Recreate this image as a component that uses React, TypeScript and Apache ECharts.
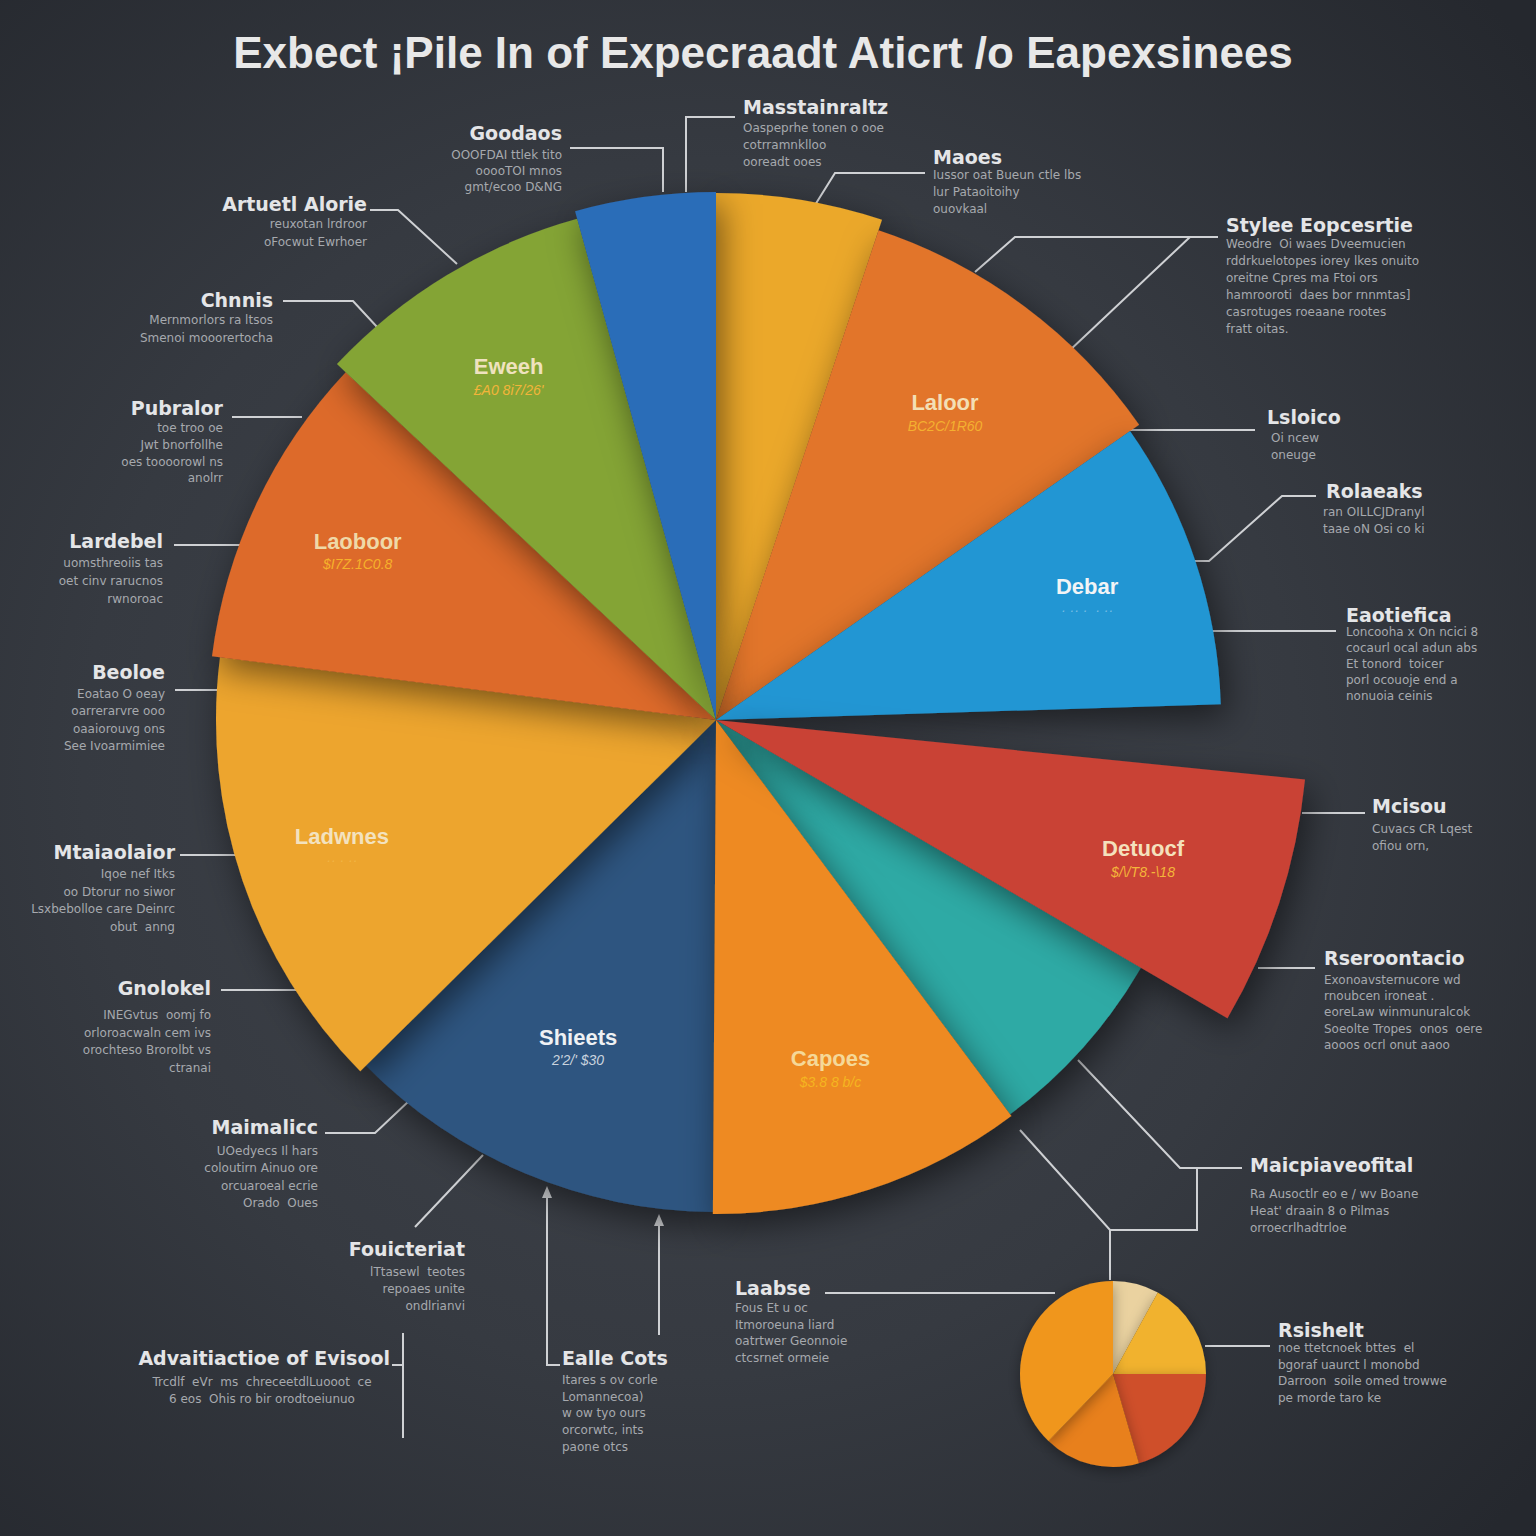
import React, { useEffect, useRef } from "react";
import * as echarts from "echarts";

// ---------- DATA ----------
const TITLE = "Exbect ¡Pile In of Expecraadt Aticrt /o Eapexsinees";

const SLICE_NAMES = ["Mastan", "Laloor", "Debar", "", "Detuocf", "Teal", "Capoes", "Shieets", "Ladwnes", "Laoboor", "Eweeh", "Goodaos"];
const SLICE_VALUES = [5.1, 10.2, 9.2, 2.1, 6.8, 6.4, 10.3, 12.5, 14.4, 10.0, 8.7, 4.3];
const SLICE_SUBTEXT = ["", "BC2C/1R60", "· ·· ·  · ··", "", "$/\\/T8.-\\18", "", "$3.8 8 b/c", "2'2/' $30", "·· · ··", "$I7Z.1C0.8", "£A0 8i7/26'", ""];
const SLICE_SHOW_LABEL = [false, true, true, false, true, false, true, true, true, true, true, false];

const SMALL_NAMES = ["Pale", "Yellow", "Red", "Orange", "Amber"];
const SMALL_VALUES = [8.0, 17.0, 20.5, 16.7, 37.8];

const NOTE_TITLES = [
  "Goodaos", "Masstainraltz", "Maoes", "Stylee Eopcesrtie", "Lsloico", "Rolaeaks",
  "Eaotiefica", "Mcisou", "Rseroontacio", "Maicpiaveofital", "Rsishelt", "Laabse",
  "Ealle Cots", "Advaitiactioe of Evisool", "Fouicteriat", "Maimalicc", "Gnolokel",
  "Mtaiaolaior", "Beoloe", "Lardebel", "Pubralor", "Chnnis", "Artuetl Alorie",
];
const NOTE_LINES = [
  ["OOOFDAI ttlek tito", "ooooTOI mnos", "gmt/ecoo D&NG"],
  ["Oaspeprhe tonen o ooe", "cotrramnklloo", "ooreadt ooes"],
  ["Iussor oat Bueun ctle lbs", "lur Pataoitoihy", "ouovkaal"],
  ["Weodre  Oi waes Dveemucien", "rddrkuelotopes iorey lkes onuito", "oreitne Cpres ma Ftoi ors", "hamrooroti  daes bor rnnmtas]", "casrotuges roeaane rootes", "fratt oitas."],
  ["Oi ncew", "oneuge"],
  ["ran OILLCJDranyl", "taae oN Osi co ki"],
  ["Loncooha x On ncici 8", "cocaurl ocal adun abs", "Et tonord  toicer", "porl ocouoje end a", "nonuoia ceinis"],
  ["Cuvacs CR Lqest", "ofiou orn,"],
  ["Exonoavsternucore wd", "rnoubcen ironeat .", "eoreLaw winmunuralcok", "Soeolte Tropes  onos  oere", "aooos ocrl onut aaoo"],
  ["Ra Ausoctlr eo e / wv Boane", "Heat' draain 8 o Pilmas", "orroecrlhadtrloe"],
  ["noe ttetcnoek bttes  el", "bgoraf uaurct l monobd", "Darroon  soile omed trowwe", "pe morde taro ke"],
  ["Fous Et u oc", "Itmoroeuna liard", "oatrtwer Geonnoie", "ctcsrnet ormeie"],
  ["Itares s ov corle", "Lomannecoa)", "w ow tyo ours", "orcorwtc, ints", "paone otcs"],
  ["Trcdlf  eVr  ms  chreceetdlLuooot  ce", "6 eos  Ohis ro bir orodtoeiunuo"],
  ["lTtasewl  teotes", "repoaes unite", "ondlrianvi"],
  ["UOedyecs Il hars", "coloutirn Ainuo ore", "orcuaroeal ecrie", "Orado  Oues"],
  ["INEGvtus  oomj fo", "orloroacwaln cem ivs", "orochteso Brorolbt vs", "ctranai"],
  ["Iqoe nef Itks", "oo Dtorur no siwor", "Lsxbebolloe care Deinrc", "obut  anng"],
  ["Eoatao O oeay", "oarrerarvre ooo", "oaaiorouvg ons", "See Ivoarmimiee"],
  ["uomsthreoiis tas", "oet cinv rarucnos", "rwnoroac"],
  ["toe troo oe", "Jwt bnorfollhe", "oes toooorowl ns", "anolrr"],
  ["Mernmorlors ra ltsos", "Smenoi mooorertocha"],
  ["reuxotan lrdroor", "oFocwut Ewrhoer"],
];

// ---------- STYLE / LAYOUT ----------
const W = 1536;
const H = 1536;
const CENTER = [716, 720];
const SLICE_COLORS = ["#EBA82C", "#E2742A", "#2196D3", "none", "#C94236", "#2FAAA5", "#EE8A22", "#2D5580", "#EDA52E", "#DD6A2A", "#84A436", "#2B6DB8"];
const SLICE_RADIUS = [527, 516, 505, 0, 592, 492, 494, 492, 500, 508, 520, 528];
const SLICE_Z = [2, 2, 3, 1, 5, 2, 3, 2, 2, 2, 2, 2];
const LABEL_RADIUS = [0, 380, 388, 0, 446, 0, 364, 352, 392, 393, 398, 0];
const HEAD_COLORS = ["", "#f3dfb5", "#f2f4f6", "", "#f4e1bd", "", "#f5d898", "#eef1f4", "#f3e2bf", "#efd9a8", "#efe2bf", ""];
const SUB_COLORS = ["", "#f4b030", "rgba(225,238,248,0.45)", "", "#f4b53a", "", "#f5b520", "#c9d3de", "rgba(245,196,90,0.55)", "#f6b12a", "#f2b43a", ""];
const SMALL_COLORS = ["#EAD2A0", "#F1B22E", "#CF4F2A", "#E8801C", "#F0961F"];
const SMALL_CENTER = [1113, 1374];
const SMALL_RADIUS = 93;

// x, y of heading; align; first body line y; gap; optional body x / align
const NOTE_LAYOUT = [
  { x: 562, y: 133, align: "right", y0: 155, gap: 16 },
  { x: 743, y: 107, align: "left", y0: 128, gap: 17 },
  { x: 933, y: 157, align: "left", y0: 175, gap: 17 },
  { x: 1226, y: 225, align: "left", y0: 244, gap: 17 },
  { x: 1267, y: 417, align: "left", y0: 438, gap: 17, bx: 1271 },
  { x: 1326, y: 491, align: "left", y0: 512, gap: 17, bx: 1323 },
  { x: 1346, y: 615, align: "left", y0: 632, gap: 16 },
  { x: 1372, y: 806, align: "left", y0: 829, gap: 17 },
  { x: 1324, y: 958, align: "left", y0: 980, gap: 16.2 },
  { x: 1250, y: 1165, align: "left", y0: 1194, gap: 17 },
  { x: 1278, y: 1330, align: "left", y0: 1348, gap: 16.7 },
  { x: 735, y: 1288, align: "left", y0: 1308, gap: 16.5 },
  { x: 562, y: 1358, align: "left", y0: 1380, gap: 16.7 },
  { x: 390, y: 1358, align: "right", y0: 1382, gap: 17, bx: 262, balign: "center" },
  { x: 465, y: 1249, align: "right", y0: 1272, gap: 17 },
  { x: 318, y: 1127, align: "right", y0: 1151, gap: 17.3 },
  { x: 211, y: 988, align: "right", y0: 1015, gap: 17.6 },
  { x: 175, y: 852, align: "right", y0: 874, gap: 17.6 },
  { x: 165, y: 672, align: "right", y0: 694, gap: 17.4 },
  { x: 163, y: 541, align: "right", y0: 563, gap: 18 },
  { x: 223, y: 408, align: "right", y0: 428, gap: 16.8 },
  { x: 273, y: 300, align: "right", y0: 320, gap: 18 },
  { x: 367, y: 204, align: "right", y0: 224, gap: 18 },
];

const LEADERS = [
  [[570, 148], [663, 148], [663, 192]],
  [[735, 117], [686, 117], [686, 192]],
  [[925, 173], [835, 173], [815, 205]],
  [[1218, 237], [1015, 237], [975, 272]],
  [[1190, 237], [1068, 352]],
  [[1255, 430], [1125, 430]],
  [[1316, 496], [1282, 496], [1209, 561], [1195, 561]],
  [[1336, 631], [1208, 631]],
  [[1365, 813], [1302, 813]],
  [[1315, 968], [1258, 968]],
  [[1242, 1168], [1180, 1168], [1078, 1060]],
  [[1197, 1168], [1197, 1230], [1110, 1230], [1020, 1130]],
  [[1110, 1230], [1110, 1280]],
  [[1270, 1346], [1205, 1346]],
  [[825, 1293], [1055, 1293]],
  [[560, 1365], [547, 1365], [547, 1194]],
  [[659, 1335], [659, 1222]],
  [[392, 1365], [403, 1365]],
  [[403, 1333], [403, 1438]],
  [[415, 1227], [483, 1155]],
  [[325, 1133], [375, 1133], [410, 1100]],
  [[221, 990], [303, 990]],
  [[180, 855], [240, 855]],
  [[175, 690], [218, 690]],
  [[174, 545], [242, 545]],
  [[232, 417], [302, 417]],
  [[283, 301], [353, 301], [378, 328]],
  [[370, 210], [398, 210], [457, 264]],
];
const ARROWS = [[547, 1186], [659, 1214]];

const FONT = "'Liberation Sans', Arial, sans-serif";
const NOTE_FONT = "'DejaVu Sans', 'Liberation Sans', sans-serif";

function buildOption() {
  const series: any[] = [];
  const transparent = { color: "rgba(0,0,0,0)", borderWidth: 0 };

  SLICE_VALUES.forEach((_, i) => {
    if (SLICE_COLORS[i] === "none") return;
    series.push({
      type: "pie",
      center: CENTER,
      radius: [0, SLICE_RADIUS[i]],
      startAngle: 90,
      clockwise: true,
      silent: true,
      z: SLICE_Z[i],
      label: { show: false },
      labelLine: { show: false },
      emphasis: { disabled: true },
      data: SLICE_VALUES.map((v, j) => ({
        value: v,
        name: SLICE_NAMES[j] || "gap",
        itemStyle:
          j === i
            ? {
                color: SLICE_COLORS[i],
                shadowBlur: 34,
                shadowColor: "rgba(0,0,0,0.5)",
                shadowOffsetX: 6,
                shadowOffsetY: 12,
              }
            : transparent,
      })),
    });
  });

  // label rings (transparent) — labels placed by pie layout
  SLICE_VALUES.forEach((_, i) => {
    if (!SLICE_SHOW_LABEL[i]) return;
    const r = LABEL_RADIUS[i];
    series.push({
      type: "pie",
      center: CENTER,
      radius: [r - 2, r + 2],
      startAngle: 90,
      clockwise: true,
      silent: true,
      z: 10,
      labelLine: { show: false },
      emphasis: { disabled: true },
      data: SLICE_VALUES.map((v, j) => ({
        value: v,
        name: SLICE_NAMES[j] || "gap",
        itemStyle: transparent,
        label: {
          show: j === i,
          position: "inside",
          rotate: 0,
          formatter: () => `{h|${SLICE_NAMES[i]}}\n{s|${SLICE_SUBTEXT[i]}}`,
          rich: {
            h: { fontSize: 22, fontWeight: "bold", color: HEAD_COLORS[i], fontFamily: FONT, lineHeight: 26, align: "center" },
            s: { fontSize: 14, fontStyle: "italic", color: SUB_COLORS[i], fontFamily: FONT, lineHeight: 20, align: "center" },
          },
        },
      })),
    });
  });

  // small pie
  series.push({
    type: "pie",
    center: SMALL_CENTER,
    radius: [0, SMALL_RADIUS],
    startAngle: 90,
    clockwise: true,
    silent: true,
    z: 4,
    label: { show: false },
    labelLine: { show: false },
    emphasis: { disabled: true },
    itemStyle: { shadowBlur: 14, shadowColor: "rgba(0,0,0,0.35)", shadowOffsetY: 4 },
    data: SMALL_VALUES.map((v, j) => ({ value: v, name: SMALL_NAMES[j], itemStyle: { color: SMALL_COLORS[j] } })),
  });

  const elements: any[] = [];
  elements.push({
    type: "rect",
    z: -100,
    silent: true,
    shape: { x: 0, y: 0, width: W, height: H },
    style: {
      fill: new echarts.graphic.RadialGradient(0.45, 0.5, 0.72, [
        { offset: 0, color: "#41454d" },
        { offset: 0.55, color: "#363a41" },
        { offset: 1, color: "#25282e" },
      ]),
    },
  });
  elements.push({
    type: "text",
    x: 763,
    y: 52,
    silent: true,
    style: {
      text: TITLE,
      fill: "#e8e8e8",
      font: `bold 44px ${FONT}`,
      textAlign: "center",
      textVerticalAlign: "middle",
    },
  });

  LEADERS.forEach((pts) => {
    elements.push({
      type: "polyline",
      silent: true,
      shape: { points: pts },
      style: { stroke: "#cfd1d4", lineWidth: 2, fill: null },
    });
  });
  ARROWS.forEach(([x, y]) => {
    elements.push({
      type: "polygon",
      silent: true,
      shape: { points: [[x, y], [x - 5, y + 12], [x + 5, y + 12]] },
      style: { fill: "#cfd1d4" },
    });
  });

  NOTE_TITLES.forEach((t, i) => {
    const L: any = NOTE_LAYOUT[i];
    elements.push({
      type: "text",
      x: L.x,
      y: L.y,
      silent: true,
      style: {
        text: t,
        fill: "#e4e5e7",
        font: `bold 19px ${NOTE_FONT}`,
        textAlign: L.align,
        textVerticalAlign: "middle",
      },
    });
    NOTE_LINES[i].forEach((line, k) => {
      elements.push({
        type: "text",
        x: L.bx ?? L.x,
        y: L.y0 + k * L.gap,
        silent: true,
        style: {
          text: line,
          fill: "#a6a9ae",
          font: `12px ${NOTE_FONT}`,
          textAlign: L.balign ?? L.align,
          textVerticalAlign: "middle",
        },
      });
    });
  });

  return {
    animation: false,
    backgroundColor: "#2e3138",
    series,
    graphic: { elements },
  };
}

export default function App() {
  const ref = useRef<HTMLDivElement>(null);
  useEffect(() => {
    if (!ref.current) return;
    const chart = echarts.init(ref.current, undefined, { renderer: "svg" });
    chart.setOption(buildOption() as any);
    return () => chart.dispose();
  }, []);
  return (
    <div
      ref={ref}
      style={{ position: "absolute", left: 0, top: 0, width: W, height: H }}
    />
  );
}
